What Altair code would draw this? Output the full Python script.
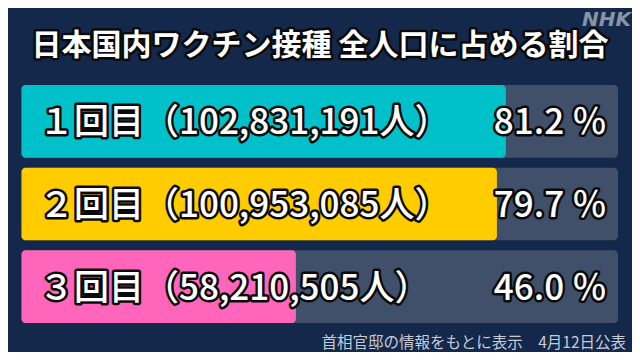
import altair as alt
import pandas as pd

# ---- data ----
doses = ["1回目", "2回目", "3回目"]
labels = ["１回目（102,831,191人）", "２回目（100,953,085人）", "３回目（58,210,505人）"]
pcts = [81.2, 79.7, 46.0]
pct_labels = ["81.2 ％", "79.7 ％", "46.0 ％"]
colors = ["#00c1c9", "#ffcc00", "#ff66bb"]
title_text = ["日本国内ワクチン接種 全人口に占める割合"]
source_text = ["首相官邸の情報をもとに表示　4月12日公表"]
logo_text = ["NHK"]

BG = "#13284a"
TRACK = "#40506a"
JP = "Noto Sans CJK JP"
OX, OY = 8, 8  # page margin offset

df = pd.DataFrame({
    "dose": doses,
    "pct": pcts,
    "label": labels,
    "pct_label": pct_labels,
    "zero": [0] * 3,
    "full": [100] * 3,
})

xs = alt.Scale(domain=[0, 100], range=[21.5 - OX, 618 - OX])
ys = alt.Scale(domain=doses, range=[85 - OY, 323 - OY], paddingInner=0.12, paddingOuter=0)
X0 = alt.X("zero:Q", scale=xs, axis=None)
Y = alt.Y("dose:N", scale=ys, axis=None, sort=doses)

base = alt.Chart(df)

track = base.mark_bar(cornerRadius=4, color=TRACK).encode(x=X0, x2="full:Q", y=Y)
bars = base.mark_bar(cornerRadius=4).encode(
    x=X0, x2="pct:Q", y=Y,
    color=alt.Color("dose:N", scale=alt.Scale(domain=doses, range=colors), legend=None),
)


def outlined(chart_src, sw=5, **kw):
    outline = chart_src.mark_text(stroke="#0a0a0a", strokeWidth=sw, strokeJoin="round",
                                  fill="#0a0a0a", **kw)
    fill = chart_src.mark_text(fill="#ffffff", **kw)
    return outline, fill


lab_kw = dict(align="left", baseline="middle", font=JP, fontSize=35, fontWeight=500, dy=2)
lab_o, lab_f = outlined(base, **lab_kw)
lab_o = lab_o.encode(x=alt.value(39 - OX), y=Y, text="label:N")
lab_f = lab_f.encode(x=alt.value(39 - OX), y=Y, text="label:N")

pct_kw = dict(align="right", baseline="middle", font=JP, fontSize=35, fontWeight=500, dy=2)
pct_o, pct_f = outlined(base, **pct_kw)
pct_o = pct_o.encode(x=alt.value(607 - OX), y=Y, text="pct_label:N")
pct_f = pct_f.encode(x=alt.value(607 - OX), y=Y, text="pct_label:N")

tdf = alt.Chart(pd.DataFrame({"t": title_text}))
ttl_kw = dict(align="center", baseline="middle", font=JP, fontSize=30, fontWeight="bold")
ttl_o, ttl_f = outlined(tdf, sw=5, **ttl_kw)
ttl_o = ttl_o.encode(x=alt.value(320 - OX), y=alt.value(46 - OY), text="t:N")
ttl_f = ttl_f.encode(x=alt.value(320 - OX), y=alt.value(46 - OY), text="t:N")

logo = alt.Chart(pd.DataFrame({"t": logo_text})).mark_text(
    align="right", baseline="top", font="DejaVu Sans", fontSize=20,
    fontWeight="bold", fontStyle="italic", color="#8a94a6"
).encode(x=alt.value(631 - OX), y=alt.value(2), text="t:N")

src = alt.Chart(pd.DataFrame({"t": source_text})).mark_text(
    align="right", baseline="middle", font=JP, fontSize=15.5, color="#c6ccd6"
).encode(x=alt.value(626 - OX), y=alt.value(343 - OY), text="t:N")

chart = alt.layer(
    track, bars, lab_o, lab_f, pct_o, pct_f, ttl_o, ttl_f, logo, src
).properties(
    width=624, height=344, padding=0,
    autosize=alt.AutoSizeParams(type="none"),
    background=BG,
).configure_view(stroke=None)

chart.save("out.html", embed_options={"renderer": "svg", "actions": False})
